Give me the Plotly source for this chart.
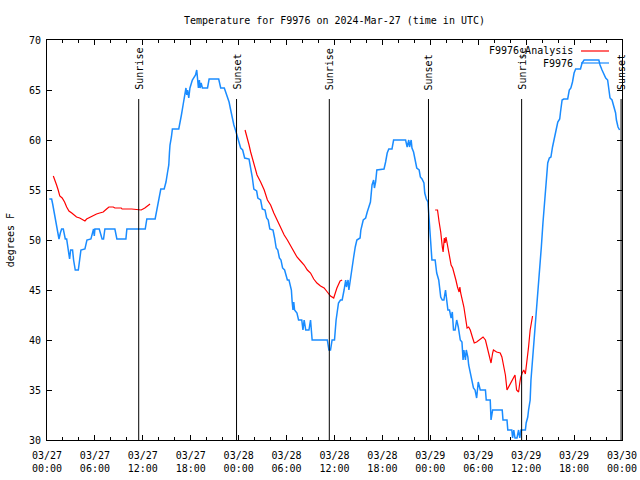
import pandas as pd
import plotly.graph_objects as go

BASE = "2024-03-27 00:00"
FONT = "DejaVu Sans Mono"

# Observed temperature F9976 (hours since 03/27 00:00 UTC, deg F)
obs_hours = [0.29, 0.58, 0.71, 0.83, 0.96, 1.08, 1.2, 1.33, 1.5, 1.67, 1.83, 2.04, 2.17, 2.29, 2.46, 2.58, 2.71, 2.83, 2.96, 3.2,
             3.33, 3.54, 3.92, 4.08, 4.25, 4.75, 5.0, 5.5, 5.7, 5.83, 5.92, 6.0, 6.54, 6.75, 6.9, 7.08, 7.25, 8.5, 8.75, 9.88,
             10.0, 12.3, 12.5, 13.54, 13.75, 14.04, 14.25, 14.67, 14.9, 15.08, 15.25, 15.33, 15.4, 15.58, 15.7, 16.5, 16.67, 16.83, 17.04, 17.25,
             17.4, 17.5, 17.6, 17.75, 17.9, 18.2, 18.4, 18.6, 18.75, 18.83, 18.96, 19.08, 19.17, 19.3, 19.46, 20.1, 20.3, 21.5, 21.75, 22.2,
             22.4, 22.6, 22.8, 23.0, 23.2, 23.4, 23.6, 23.8, 24.04, 24.25, 24.5, 24.75, 25.3, 25.5, 25.7, 25.9, 26.25, 26.4, 26.75, 26.96,
             27.3, 27.5, 27.7, 27.9, 28.3, 28.5, 28.7, 28.9, 29.1, 29.3, 29.5, 29.75, 30.1, 30.3, 30.6, 30.7, 30.8, 30.9, 31.0, 31.3,
             31.5, 31.9, 32.05, 32.2, 32.4, 32.8, 33.0, 33.2, 35.1, 35.3, 35.5, 35.7, 36.0, 36.2, 36.3, 36.5, 36.75, 36.96, 37.2, 37.4,
             37.5, 37.7, 37.8, 38.0, 38.2, 38.4, 38.6, 38.8, 39.2, 39.3, 39.6, 39.9, 40.1, 40.3, 40.5, 40.7, 40.9, 41.0, 41.15, 41.3,
             42.2, 42.4, 42.6, 42.8, 43.2, 43.4, 44.9, 45.1, 45.3, 45.4, 45.6, 45.7, 45.9, 46.1, 46.3, 46.6, 46.75, 46.96, 47.2, 47.3,
             47.5, 47.7, 47.8, 47.9, 48.05, 48.2, 48.6, 48.8, 49.05, 49.2, 49.3, 49.5, 49.7, 49.9, 50.0, 50.2, 50.4, 50.6, 50.75, 50.9,
             51.1, 51.3, 51.5, 51.75, 51.96, 52.1, 52.2, 52.4, 52.5, 52.7, 52.8, 53.0, 53.2, 53.4, 53.6, 53.8, 54.0, 54.25, 54.9, 55.0,
             55.5, 55.6, 55.8, 57.0, 57.1, 57.6, 57.7, 58.2, 58.3, 58.45, 58.6, 58.85, 59.05, 59.2, 59.35, 59.9, 60.0, 60.2, 60.3, 60.5,
             60.6, 60.8, 61.0, 61.25, 61.5, 61.7, 61.9, 62.1, 62.3, 62.5, 62.7, 62.9, 63.1, 63.3, 63.5, 63.75, 63.96, 64.2, 64.3, 64.5,
             64.7, 65.2, 65.4, 65.6, 65.8, 66.0, 66.2, 66.8, 67.0, 67.25, 69.1, 69.25, 69.5, 69.7, 69.96, 70.2, 70.3, 70.5, 70.75, 71.0,
             71.2, 71.3, 71.5, 71.7]
obs_temps = [54.1, 54.1, 53.6, 53.1, 52.7, 52.1, 51.5, 51.0, 50.1, 50.7, 51.1, 51.1, 50.7, 50.1, 50.1, 49.5, 48.5, 48.1, 49.0, 49.0,
             48.0, 47.0, 47.0, 48.2, 49.0, 49.1, 50.0, 50.1, 50.7, 51.1, 50.4, 51.1, 51.1, 50.4, 50.1, 50.1, 51.1, 51.1, 50.1, 50.1,
             51.1, 51.1, 52.1, 52.1, 53.0, 54.2, 55.1, 55.1, 55.8, 56.7, 57.5, 58.7, 59.5, 60.3, 61.1, 61.1, 61.7, 62.5, 63.5, 64.5,
             65.2, 64.5, 65.0, 64.2, 65.2, 66.0, 66.2, 66.5, 67.0, 66.0, 65.2, 66.0, 65.2, 65.7, 65.2, 65.2, 66.1, 66.1, 65.2, 65.2,
             64.7, 64.2, 63.8, 63.0, 62.2, 61.5, 61.0, 60.5, 59.8, 59.2, 59.0, 58.2, 58.1, 57.3, 56.3, 55.1, 54.9, 54.2, 54.0, 53.1,
             53.0, 52.2, 52.0, 51.1, 51.0, 50.2, 49.2, 49.0, 48.2, 48.0, 47.2, 47.0, 46.0, 46.0, 45.0, 43.8, 43.0, 43.8, 43.0, 42.7,
             42.0, 42.0, 41.0, 42.0, 41.0, 41.0, 42.0, 40.0, 40.0, 39.0, 39.0, 40.0, 40.0, 42.0, 42.7, 43.7, 44.0, 44.0, 45.0, 46.0,
             45.3, 46.0, 45.0, 46.3, 47.3, 48.3, 49.3, 50.0, 50.2, 51.0, 52.0, 52.2, 52.8, 53.2, 53.8, 55.5, 56.0, 55.2, 55.8, 57.0,
             57.1, 57.8, 58.7, 59.1, 59.1, 60.0, 60.0, 59.3, 60.0, 59.3, 60.0, 59.2, 58.8, 58.0, 57.2, 57.0, 56.3, 56.1, 55.7, 54.7,
             54.1, 53.8, 52.5, 51.0, 49.5, 48.0, 48.0, 46.7, 46.0, 45.2, 44.3, 44.0, 44.0, 45.0, 44.3, 43.0, 43.0, 42.2, 42.8, 41.0,
             41.0, 42.0, 41.3, 40.0, 39.8, 38.0, 39.0, 38.0, 39.0, 38.3, 37.5, 36.8, 36.2, 35.2, 35.0, 34.2, 35.8, 35.0, 35.0, 34.0,
             34.0, 32.0, 33.0, 33.0, 32.0, 32.0, 31.0, 31.0, 30.2, 31.0, 30.2, 30.2, 31.0, 30.2, 31.0, 31.0, 31.7, 32.3, 33.0, 34.0,
             36.0, 38.0, 40.0, 42.3, 44.7, 47.0, 49.3, 51.7, 53.7, 55.7, 57.7, 58.2, 58.3, 59.3, 60.2, 61.0, 61.8, 62.1, 62.8, 64.0,
             64.1, 64.1, 65.0, 65.2, 65.8, 66.7, 67.1, 67.1, 67.7, 68.0, 68.0, 67.5, 67.0, 66.7, 66.2, 66.0, 65.2, 64.2, 64.0, 63.3,
             62.7, 62.0, 61.3, 61.0]

# Analysis F9976_Analysis, three segments
ana1_hours = [0.79, 1.0, 1.2, 1.4, 1.6, 1.9, 2.2, 2.46, 2.75, 3.1, 3.4, 3.7, 4.1, 4.5, 4.75, 4.96, 5.4, 5.8, 6.2, 6.6,
              7.04, 7.46, 7.75, 8.3, 8.5, 9.3, 9.4, 10.6, 11.4, 11.8, 12.25, 12.7, 12.9]
ana1_temps = [56.4, 56.0, 55.5, 55.0, 54.4, 54.2, 53.8, 53.3, 52.9, 52.7, 52.5, 52.3, 52.2, 52.0, 51.9, 52.1, 52.3, 52.4, 52.6, 52.7,
              52.8, 53.1, 53.3, 53.3, 53.2, 53.2, 53.1, 53.1, 53.0, 53.0, 53.2, 53.5, 53.6]
ana2_hours = [24.8, 25.1, 25.3, 25.5, 25.7, 26.1, 26.3, 26.75, 27.2, 27.6, 28.0, 28.4, 28.8, 29.25, 29.7, 30.1, 30.5, 30.9, 31.3, 31.75,
              32.2, 32.6, 33.0, 33.4, 33.8, 34.25, 34.7, 35.1, 35.5, 35.9, 36.3, 36.7, 36.96]
ana2_temps = [61.0, 60.2, 59.5, 58.8, 58.2, 57.2, 56.5, 55.8, 55.0, 54.0, 53.5, 52.7, 52.0, 51.3, 50.5, 50.0, 49.4, 48.8, 48.3, 47.9,
              47.5, 47.0, 46.7, 46.1, 45.7, 45.4, 45.2, 44.8, 44.4, 44.2, 45.2, 45.9, 46.0]
ana3_hours = [48.6, 48.9, 49.1, 49.3, 49.5, 49.6, 49.75, 49.85, 49.96, 50.2, 50.4, 50.6, 50.8, 51.0, 51.2, 51.4, 51.6, 51.7, 51.8, 52.2,
              52.4, 52.6, 52.8, 53.0, 53.3, 53.5, 53.8, 54.25, 54.6, 54.9, 55.1, 55.3, 55.5, 55.6, 55.8, 55.9, 56.3, 56.75, 56.96, 57.2,
              57.4, 57.6, 57.8, 58.0, 58.2, 58.4, 58.6, 58.8, 59.05, 59.2, 59.3, 59.5, 59.7, 59.9, 60.1, 60.3, 60.5, 60.7, 60.8]
ana3_temps = [53.0, 53.0, 51.8, 50.8, 49.3, 48.8, 50.2, 49.7, 50.3, 49.2, 48.3, 47.5, 47.2, 46.7, 46.0, 45.3, 44.8, 45.3, 44.7, 43.3,
              42.3, 41.2, 41.3, 41.0, 40.2, 39.7, 39.8, 40.1, 40.3, 40.0, 39.3, 38.7, 38.0, 37.7, 38.7, 39.0, 38.8, 38.7, 38.3, 37.3,
              36.5, 35.0, 35.3, 35.7, 36.0, 36.3, 36.5, 35.0, 34.8, 35.7, 36.2, 36.7, 37.0, 36.6, 37.7, 39.3, 41.0, 42.3, 42.4]

sun_times = ["2024-03-27 11:29", "2024-03-27 23:44", "2024-03-28 11:21",
             "2024-03-28 23:46", "2024-03-29 11:26", "2024-03-29 23:53"]
sun_labels = ["Sunrise", "Sunset", "Sunrise", "Sunset", "Sunrise", "Sunset"]

title_text = "Temperature for F9976 on 2024-Mar-27 (time in UTC)"
y_title = "degrees F"
legend_names = ["F9976_Analysis", "F9976"]

RED = "#ff0000"
BLUE = "#1a8cff"

W, H = 640, 480

base = pd.Timestamp(BASE)


def to_time(hours):
    return [base + pd.Timedelta(hours=h) for h in hours]


fig = go.Figure()
for hrs, tmp in [(ana1_hours, ana1_temps), (ana2_hours, ana2_temps), (ana3_hours, ana3_temps)]:
    fig.add_trace(go.Scatter(x=to_time(hrs), y=tmp, mode="lines",
                             line=dict(color=RED, width=1.2), showlegend=False,
                             name=legend_names[0]))
fig.add_trace(go.Scatter(x=to_time(obs_hours), y=obs_temps, mode="lines",
                         line=dict(color=BLUE, width=1.5), showlegend=False,
                         name=legend_names[1]))

shapes = []
annotations = []
for t, lab in zip(sun_times, sun_labels):
    shapes.append(dict(type="line", xref="x", yref="y", x0=t, x1=t, y0=30, y1=64.1,
                       line=dict(color="black", width=1)))
    annotations.append(dict(x=t, y=64.8, xref="x", yref="y", text=lab, textangle=-90,
                            showarrow=False, xanchor="center", yanchor="bottom",
                            font=dict(family=FONT, size=10, color="black")))

# gnuplot-style legend (text right, sample line left)
leg_rows = [(0.9725, RED), (0.9425, BLUE)]
for name, (yy, col) in zip(legend_names, leg_rows):
    annotations.append(dict(x=0.918, y=yy, xref="paper", yref="paper", text=name,
                            showarrow=False, xanchor="right", yanchor="middle",
                            font=dict(family=FONT, size=10, color="black")))
    shapes.append(dict(type="line", xref="paper", yref="paper", x0=0.9287, x1=0.9774,
                       y0=yy, y1=yy, line=dict(color=col, width=1.2)))

annotations.append(dict(x=-0.064, y=0.5, xref="paper", yref="paper", text=y_title,
                        textangle=-90, showarrow=False, xanchor="center", yanchor="middle",
                        font=dict(family=FONT, size=10, color="black")))

fig.update_layout(
    width=W, height=H,
    margin=dict(l=47, r=18, t=40, b=40, autoexpand=False),
    paper_bgcolor="white", plot_bgcolor="white",
    title=dict(text=title_text, x=0.5, xref="paper", y=1 - 20 / H, yref="container",
               xanchor="center", yanchor="middle",
               font=dict(family=FONT, size=10, color="black")),
    font=dict(family=FONT, size=10, color="black"),
    shapes=shapes, annotations=annotations,
    showlegend=False,
)
fig.update_xaxes(
    range=[base, base + pd.Timedelta(hours=72)],
    type="date", tick0=base, dtick=6 * 3600 * 1000, tickformat="%m/%d<br>%H:%M",
    ticks="inside", ticklen=5, tickcolor="black", mirror="ticks",
    showline=True, linecolor="black", linewidth=1, showgrid=False, zeroline=False,
    minor=dict(dtick=2 * 3600 * 1000, ticks="inside", ticklen=3, tickcolor="black", showgrid=False),
    tickfont=dict(family=FONT, size=10, color="black"),
    ticklabelstandoff=6, automargin=False,
)
fig.update_yaxes(
    range=[30, 70], dtick=5, ticks="inside", ticklen=5, tickcolor="black", mirror="ticks",
    showline=True, linecolor="black", linewidth=1, showgrid=False, zeroline=False,
    tickfont=dict(family=FONT, size=10, color="black"),
    ticklabelstandoff=3, automargin=False,
)

# remove the default page margin so the figure sits at the window's top-left corner
fig.write_html("out.html", config={"displayModeBar": False},
               post_script="document.body.style.margin='0px';")
